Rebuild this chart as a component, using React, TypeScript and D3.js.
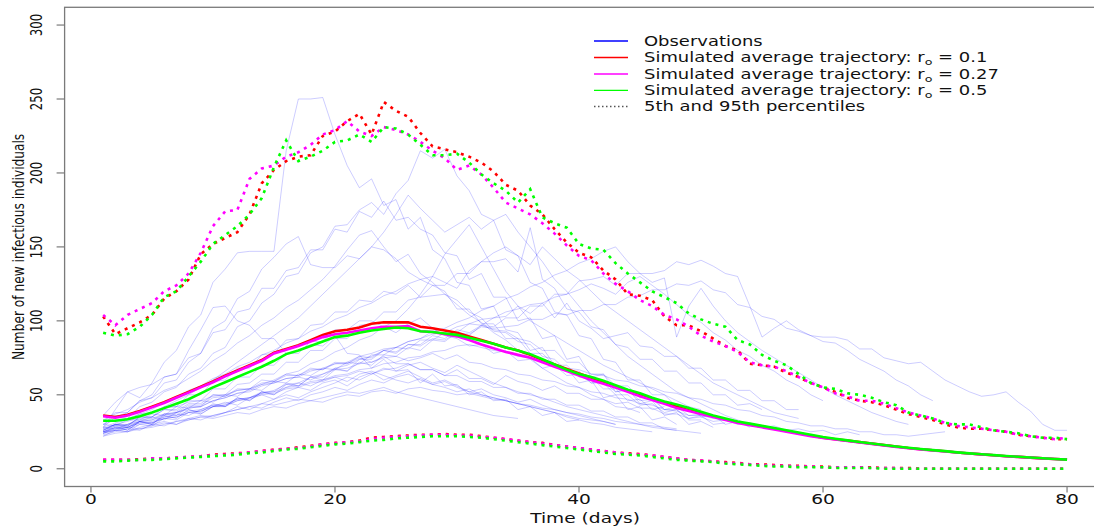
import React from 'react';
import * as d3 from 'd3';

// ---------- data ----------
const xTicks = [0, 20, 40, 60, 80];
const yTicks = [0, 50, 100, 150, 200, 250, 300];

// simulated average trajectories (day 1..80)
const meanR01 = [36,35,36.5,39,42,45,48.5,52,55.5,59,63,66.5,70,73.5,78.5,81,83.5,87,90.5,93,94,95.5,98,99,99,99,96,95,93.5,92,89.5,87,84.5,82,80,77,73.5,70.5,67.5,64.5,61.5,58.5,55.5,52.5,49.5,47,44.5,42,39.5,37.5,35.5,33.5,31.5,30,28.5,27,25.5,24,22.5,21,20,19,18,17,16,15,14,13.2,12.5,11.8,11,10.3,9.7,9.1,8.5,8,7.5,7,6.6,6.2];
const meanR027 = [35.5,34.5,36,38.5,41.5,44.5,48,51.5,55,58.5,62.5,66,69.5,73,78,80.5,83,86,89,91,92,93.5,95,96,96,96.5,93,92.5,91,89.5,87,84,81.5,79,77,75,72,69,66,63,60,57.5,55,52,49,46.5,44,41,39,37,35,33,31,29.5,28,26.5,25,23.5,22,20.8,19.8,18.8,17.8,16.8,15.8,14.8,13.9,13.1,12.4,11.7,11,10.3,9.7,9.1,8.5,8,7.5,7,6.6,6.2];
const meanR05 = [32.5,32.5,33.5,35.5,38,41,44,47,51,55,58.5,62,65.5,69,73,77.5,80,83,86,89,90,92,93.5,94.5,95.5,95,93,92.5,91.5,90.5,88.5,86.5,84.5,82,80,77.5,74,70.5,67,64,62,59.5,56.5,53.5,51,48,45.5,43.5,41,38.5,36,34,32,30.5,29,27.5,26,24.5,23,21.5,20.3,19.2,18.1,17.1,16.1,15.1,14.2,13.4,12.6,11.9,11.1,10.4,9.8,9.2,8.6,8.1,7.6,7.1,6.6,6.2];

// 95th percentiles
const hiR01 = [103,91,95,99,104,115,120,128,145,152,156,160,172,193,202,208,211,212,225,228,235,240,226,248,242,238,227,218,216,214,211,207,201,192,188,178,172,162,153,146,143,134,128,118,117,114,103,97,97,93,88,83,80,71,70,69,65,62,58,55,52,48,46,45,43,40,37,35,33,30,28,27,27,26,25,23,22,21,20,20];
const hiR027 = [104,97,104,108,112,120,124,132,146,164,174,175,196,203,205,211,214,219,226,229,235,228,225,231,229,226,221,215,210,202,205,199,190,180,176,172,166,159,151,144,141,132,125,120,114,110,104,101,96,90,86,83,79,72,70,69,66,62,58,55,51,49,46,46,44,41,38,36,34,31,29,28,27,26,25,23,22,21,20,21];
const hiR05 = [92,90,91,96,104,116,120,130,140,152,158,164,172,183,204,222,208,211,215,221,222,226,221,231,230,226,219,212,212,213,207,199,193,188,180,189,170,166,163,152,149,148,139,132,126,120,116,112,105,101,98,96,87,84,77,73,70,64,58,55,54,51,50,48,45,43,38,36,34,31,30,30,28,26,25,24,22,21,21,20];

// 5th percentiles
const loR01 = [6,6,6,6.5,7,7,7.5,8,8.5,9.5,10,10.5,11,12,13,13.5,14.5,15.5,16.5,17.5,18,19,21,21.5,22,22.5,23,23,23.5,23,23,22,21,20,19,18,17.5,16,15,14,13,12,11,10.5,10,9,8,7,6,5.5,5,4.5,4,3,3,2.5,2,2,1.5,1.5,1,1,1,1,0.5,0.5,0.5,0,0,0,0,0,0,0,0,0,0,0,0,0];
const loR027 = [6,6,6,6,7,7,7.5,8,8.5,9,9.5,10,11,12,12.5,13.5,14,15,16.5,17,18,18.5,20,21,21.5,22,22.5,23,23,22.5,22.5,21.5,21,20,19,18,17,16,15,14,13,12,11,10,9.5,9,8,7,6,5.5,5,4,3.5,3,2.5,2,2,1.5,1.5,1,1,1,1,0.5,0.5,0.5,0,0,0,0,0,0,0,0,0,0,0,0,0,0];
const loR05 = [5,5,5.5,6,6,6.5,7,7.5,8,8.5,9,9.5,10.5,11,12,13,13.5,14.5,15.5,16.5,17,18,19,19.5,20.5,21,21.5,22,22,22,21.5,21,20,19,18,17,16,15,14,13,12,11,10,9.5,9,8,7,6,5.5,5,4.5,3.5,3,2.5,2,1.5,1.5,1,1,1,0.5,0.5,0.5,0.5,0,0,0,0,0,0,0,0,0,0,0,0,0,0,0,0];

// observed trajectories (day 1..n)
const obs = [
  [36,45,52,48,58,72,80,96,104,126,135,146,147,147,147,215,250,250,251,226,205,190,196,178,182,162,170,148,142,126,124,108,110,94,92,80,82,70,68,58,60,48,50,40,42,33,35,30],
  [30,36,34,42,45,52,55,64,68,78,82,96,100,112,118,130,132,146,150,164,165,175,180,172,186,195,215,210,216,198,188,172,168,148,144,126,122,106,104,90,88,74,72,60,60,50,50,42,42,35,36,30,32,28],
  [28,35,38,46,50,62,64,75,78,92,94,106,108,122,122,134,136,148,148,162,160,174,170,181,168,170,162,158,146,144,128,132,116,116,100,102,88,90,74,76,62,64,52,54,44,46,36,38,30,32,28],
  [32,38,38,46,48,58,60,72,78,95,100,115,120,135,143,152,157,138,136,136,144,142,150,148,142,133,128,124,120,108,108,98,98,88,88,78,78,70,70,62,62,54,54,46,47,40,42],
  [28,40,52,55,57,62,64,80,94,109,110,100,97,88,88,78,80,84,83,90,78,77,68,74,66,67,58,64,56,57,50,52,46,47,40,42,36,38,32,33],
  [26,30,29,35,35,42,42,50,50,59,60,68,68,77,78,87,88,97,98,106,106,114,113,120,118,124,116,117,118,114,106,102,93,92,86,84,76,74,66,66,58,58,50,50,43,44,38,40,34,36,30,31],
  [24,28,26,32,30,37,36,42,42,50,50,57,58,64,64,72,72,80,80,88,88,97,98,106,106,114,116,124,124,132,132,140,140,142,133,163,128,122,108,106,96,94,84,82,74,74,66,66,58,58,50,50,43,44,40],
  [25,29,26,32,30,36,34,40,38,44,42,48,46,52,50,57,56,62,60,67,66,72,70,77,76,82,80,87,86,92,90,97,96,102,102,110,110,118,118,127,128,130,124,132,132,132,134,140,138,141,137,132,130,110,89,95,100,94,90,86,85,80,74,70,66,60,56,50,46],
  [26,30,29,35,35,40,39,44,44,50,49,54,54,60,59,64,63,68,67,72,71,76,75,80,79,84,83,88,87,92,91,96,95,96,97,101,101,105,104,107,107,111,111,116,117,121,121,125,124,127,121,119,111,109,103,101,95,93,90,89,89,87,81,81,75,73,71,72,66,60,56,52,49,50,52,45,39,30,26,26],
  [25,28,28,32,33,37,38,43,43,48,49,53,54,58,59,63,63,67,67,71,71,75,72,76,71,71,67,67,63,63,59,59,55,55,51,51,47,47,43,43,39,39,35,35,31,31,27,26],
  [27,30,28,32,35,33,38,40,37,42,45,43,48,50,47,52,55,53,58,60,56,62,65,60,63,66,62,58,60,56,52,54,50,48,45,47,43,40,38,36,34,32,30],
  [23,25,27,26,30,32,30,34,36,35,38,40,42,41,45,48,46,50,52,55,53,57,60,58,62,64,60,57,59,55,52,50,48,46,44,42,40,38,35,33,31,30,28,27,26,25],
  [24,26,25,28,30,29,32,34,33,36,38,42,40,44,47,50,48,52,55,58,62,60,64,68,66,70,72,68,65,70,66,62,58,55,52,50,48,45,42,40,38,36,34,32,30,28,27,26,25,24],
  [22,26,25,30,29,34,33,38,37,42,42,48,46,52,52,58,56,62,62,68,66,74,74,80,78,84,84,90,88,94,92,97,94,93,88,86,80,80,72,72,64,64,56,56,48,48,40,40,33,33],
  [30,29,33,33,37,36,42,41,46,45,50,49,54,53,59,58,64,63,68,67,72,71,77,77,82,81,87,87,92,92,98,97,102,103,110,105,112,102,112,100,95,88,90,92,83,82,76,76,68,68,60,60,53,53,46,46,40,40],
  [25,26,28,27,29,31,30,33,35,34,36,38,37,40,42,41,44,46,45,48,50,49,52,53,51,54,55,53,52,50,51,49,47,46,44,43,41,40,38,37,35,34,32,31,30,29,28,27],
  [28,27,30,32,31,35,37,36,40,43,42,46,48,52,50,55,58,56,60,62,59,64,66,63,60,58,61,57,55,52,54,50,48,46,44,42,40,38,36,34,33,32,30],
  [26,30,30,34,35,40,40,46,46,54,54,62,62,70,70,78,78,86,86,94,94,100,100,96,92,98,102,95,90,88,83,84,78,80,73,74,68,70,63,64,58,59,52,53,46,47,40,42,36,37],
  [24,26,27,30,31,34,35,38,39,42,43,46,47,50,51,54,55,58,59,62,63,66,64,67,68,71,67,67,63,67,61,61,57,63,59,57,53,56,51,51,47,47,44,45,41,41,37,37,34,35,32,33,30,31,28,29,26,27,25,26,23,25,23],
  [25,28,29,32,33,36,38,41,42,46,48,51,52,56,58,61,62,66,68,71,72,76,78,81,82,86,88,91,92,96,98,101,102,106,108,111,112,116,118,121,125,122,118,126,130,124,118,111,104,99,92,87,80,76,70,66,60,56,50,46],
  [22,24,25,27,28,30,32,33,35,36,38,40,42,44,43,45,47,46,48,50,52,51,53,55,52,50,48,46,44,42,40,38,36,35,34],
  [30,33,34,37,38,41,42,45,46,49,50,53,54,57,58,61,62,60,64,67,68,71,72,75,76,73,75,78,74,77,72,71,68,67,64,63,60,59,56,55,52,51,48,47,44,43,40,39,36,36,34,33],
  [24,27,28,31,32,35,36,39,40,43,44,47,48,51,52,55,56,59,60,63,64,67,68,71,72,75,76,79,80,83,84,82,80,79,76,75,72,71,68,67,64,63,60,59,56,55,52,51,48,47,44,43,40,39,36,35,32,31,29,29,27,27,25,25,23,23,22,23,24,25],
  [33,37,40,45,48,53,56,61,66,73,78,85,90,97,102,109,114,121,128,137,148,158,161,150,140,145,132,126,118,111,104,99,92,87,80,75,68,63,58,55,50,47,42,41,38],
  [26,29,30,33,34,37,38,41,42,46,48,51,53,57,60,64,66,71,74,79,82,87,90,96,100,108,118,130,145,155,165,150,135,120,110,100,95,90,85,80,75,70,66,62,58,54,50,46,42,40],
  [28,31,33,37,40,45,48,53,56,61,64,69,72,77,80,85,88,93,96,101,104,109,112,117,120,125,128,130,126,122,134,140,146,150,144,138,150,142,134,128,120,112,106,100,94,88,82,76,70,64,58,54,50,46,42,38,36,34],
  [25,27,28,31,31,34,35,38,39,42,43,47,48,51,53,57,58,62,64,68,70,74,76,80,82,86,88,93,95,99,102,107,110,115,118,123,126,131,134,139,142,147,150,140,132,126,129,89,110,122,110,100,92,86,80,75,70,65,60,55,50,46,42,38,35,32,30],
  [27,30,32,35,38,42,46,50,55,60,66,72,78,84,90,96,102,110,118,126,134,142,150,160,172,185,176,168,160,165,170,162,168,172,160,150,140,128,120,110,100,92,84,76,70,64,58,52,48,44,40,36,33,30],
];

const legendLabels = ['Observations', 'Simulated average trajectory: r', 'Simulated average trajectory: r', 'Simulated average trajectory: r', '5th and 95th percentiles'];
const legendValues = ['', '0.1', '0.27', '0.5', ''];

// ---------- layout ----------
const W = 1094, H = 527;
const K = 1.33; // horizontal text stretch of the reference
const x = d3.scaleLinear().domain([-2.16, 83.16]).range([64.6, 1105.6]);
const y = d3.scaleLinear().domain([-12, 312]).range([486.5, 7.3]);
const line = d3.line<number>().x((_, i) => x(i + 1)).y((d) => y(d));

const RED = '#FF0000', MAG = '#FF00FF', GRN = '#00FF00', BLUE = '#0000FF';
const FONT = 'DejaVu Sans, Verdana, sans-serif';
const AX = '#7a7a7a';

export default function App() {
  const [x0, x1] = x.range();
  const [y0, y1] = y.range();
  const dots = '3,5';
  const legendColors = [BLUE, RED, MAG, GRN, '#555'];
  const legendY = [41, 57.5, 74, 90.3, 106.5];
  return (
    <svg width={W} height={H} style={{ position: 'absolute', left: 0, top: 0, background: '#fff' }} fontFamily={FONT}>
      <defs>
        <clipPath id="plot"><rect x={x0} y={y1} width={x1 - x0} height={y0 - y1} /></clipPath>
      </defs>
      <g clipPath="url(#plot)">
        {obs.map((o, i) => (
          <path key={'o' + i} d={line(o) || ''} fill="none" stroke={BLUE} strokeOpacity={0.2} strokeWidth={1} />
        ))}
        {[meanR01, meanR027, meanR05].map((m, i) => (
          <path key={'m' + i} d={line(m) || ''} fill="none" stroke={[RED, MAG, GRN][i]} strokeWidth={2.6} />
        ))}
        {[hiR01, hiR027, hiR05, loR01, loR027, loR05].map((m, i) => (
          <path key={'p' + i} d={line(m) || ''} fill="none" stroke={[RED, MAG, GRN][i % 3]} strokeWidth={2.6} strokeDasharray={dots} />
        ))}
      </g>
      {/* box */}
      <rect x={x0} y={y1} width={x1 - x0} height={y0 - y1} fill="none" stroke={AX} strokeWidth={1.3} />
      {/* y axis */}
      {yTicks.map((t) => (
        <g key={'y' + t}>
          <line x1={x0 - 8} x2={x0} y1={y(t)} y2={y(t)} stroke={AX} strokeWidth={1.2} />
          <g transform={`translate(36.5,${y(t)}) scale(${K},1) rotate(-90)`}>
            <text textAnchor="middle" dy="0.36em" fontSize={11.8} fill="#111">{t}</text>
          </g>
        </g>
      ))}
      {/* x axis */}
      {xTicks.map((t) => (
        <g key={'x' + t}>
          <line x1={x(t)} x2={x(t)} y1={y0} y2={y0 + 6} stroke={AX} strokeWidth={1.2} />
          <g transform={`translate(${x(t)},504) scale(${K},1)`}>
            <text textAnchor="middle" fontSize={14} fill="#111">{t}</text>
          </g>
        </g>
      ))}
      <g transform={`translate(${(x0 + x1) / 2},523) scale(${K},1)`}>
        <text textAnchor="middle" fontSize={14} fill="#111">Time (days)</text>
      </g>
      <g transform={`translate(18,${(y0 + y1) / 2}) scale(${K},1) rotate(-90)`}>
        <text textAnchor="middle" dy="0.36em" fontSize={12.2} fill="#111">Number of new infectious individuals</text>
      </g>
      {/* legend */}
      {legendLabels.map((lab, i) => (
        <g key={'l' + i}>
          <line x1={594} x2={628} y1={legendY[i]} y2={legendY[i]} stroke={legendColors[i]} strokeWidth={1.3} strokeDasharray={i === 4 ? '1.5,2.5' : undefined} />
          <g transform={`translate(644,${legendY[i] + 4.8}) scale(${K},1)`}>
            <text fontSize={13.5} fill="#111">
              {legendValues[i] ? (
                <>
                  <tspan>{lab}</tspan>
                  <tspan fontSize={9.5} dy={3}>o</tspan>
                  <tspan dy={-3}>{' = ' + legendValues[i]}</tspan>
                </>
              ) : lab}
            </text>
          </g>
        </g>
      ))}
    </svg>
  );
}
